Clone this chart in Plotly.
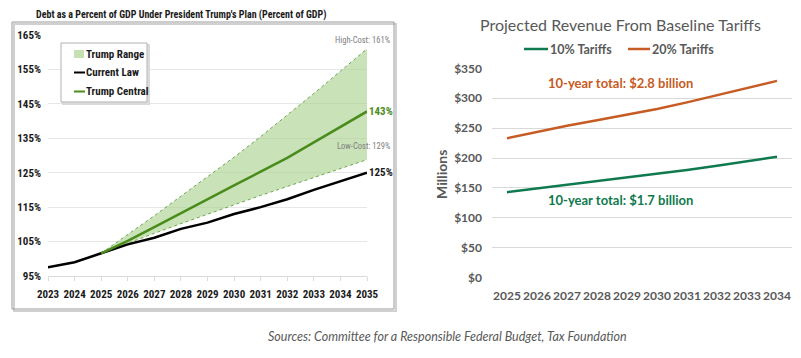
import plotly.graph_objects as go

# ---------------- Data ----------------
debt_years = [2023, 2024, 2025, 2026, 2027, 2028, 2029, 2030, 2031, 2032, 2033, 2034, 2035]
current_law = [97.5, 99.0, 101.6, 104.2, 106.1, 108.7, 110.5, 113.0, 115.0, 117.3, 120.0, 122.5, 125.0]
range_years = [2025, 2026, 2027, 2028, 2029, 2030, 2031, 2032, 2033, 2034, 2035]
trump_central = [101.6, 105.2, 109.2, 113.3, 117.2, 121.3, 125.3, 129.3, 133.8, 138.3, 142.8]
high_cost = [101.6, 107.0, 112.5, 118.2, 123.8, 129.5, 135.5, 141.7, 148.0, 154.5, 161.0]
low_cost = [101.6, 104.6, 107.4, 110.2, 113.0, 115.8, 118.4, 121.0, 123.6, 126.2, 128.8]
debt_yticks = [95, 105, 115, 125, 135, 145, 155, 165]

tariff_years = ["2025", "2026", "2027", "2028", "2029", "2030", "2031", "2032", "2033", "2034"]
tariff_10 = [143, 149, 156, 161, 168, 174, 180, 187, 195, 202]
tariff_20 = [233, 244, 254, 263, 272, 282, 293, 305, 317, 329]
tariff_yticks = [0, 50, 100, 150, 200, 250, 300, 350]

# ---------------- Styling ----------------
W, H = 801, 358
OFF = 8  # the page body adds an 8px margin; compensate so picture pixels line up


def px(x):
    return (x - OFF) / W


def py(y):
    return 1 - (y - OFF) / H


NARROW = "Roboto Condensed, Liberation Sans Narrow, sans-serif"
SANS = "Lato, Open Sans, sans-serif"
GREEN = "#4a8c1c"
FILL = "rgba(174,211,146,0.65)"
EDGE = "#6aa84f"
T_GREEN = "#0f7a4d"
T_ORANGE = "#c75b24"
GRAY = "#595959"
INK = "#1a1a1a"

fig = go.Figure()

# Left chart: range band
fig.add_trace(go.Scatter(x=range_years, y=low_cost, mode="lines",
                         line=dict(color=EDGE, width=1, dash="dot"),
                         xaxis="x", yaxis="y", showlegend=False, hoverinfo="skip"))
fig.add_trace(go.Scatter(x=range_years, y=high_cost, mode="lines", fill="tonexty",
                         fillcolor=FILL, line=dict(color=EDGE, width=1, dash="dot"),
                         xaxis="x", yaxis="y", showlegend=False, name="Trump Range"))
fig.add_trace(go.Scatter(x=debt_years, y=current_law, mode="lines",
                         line=dict(color="#000000", width=2.5),
                         xaxis="x", yaxis="y", showlegend=False, name="Current Law"))
fig.add_trace(go.Scatter(x=range_years, y=trump_central, mode="lines",
                         line=dict(color=GREEN, width=2.5),
                         xaxis="x", yaxis="y", showlegend=False, name="Trump Central"))

# Right chart
fig.add_trace(go.Scatter(x=tariff_years, y=tariff_10, mode="lines",
                         line=dict(color=T_GREEN, width=2.5),
                         xaxis="x2", yaxis="y2", showlegend=False, name="10% Tariffs"))
fig.add_trace(go.Scatter(x=tariff_years, y=tariff_20, mode="lines",
                         line=dict(color=T_ORANGE, width=2.5),
                         xaxis="x2", yaxis="y2", showlegend=False, name="20% Tariffs"))

shapes = []
annotations = []

# Left chart frame with shadow
shapes.append(dict(type="rect", xref="paper", yref="paper", x0=px(14), x1=px(396), y0=py(311), y1=py(24),
                   line=dict(color="#d0d0d0", width=2), fillcolor="rgba(0,0,0,0)", layer="below"))
shapes.append(dict(type="rect", xref="paper", yref="paper", x0=px(12), x1=px(394), y0=py(309), y1=py(22),
                   line=dict(color="#9a9a9a", width=1), fillcolor="rgba(0,0,0,0)", layer="below"))

# Left legend box
shapes.append(dict(type="rect", xref="paper", yref="paper", x0=px(63), x1=px(149), y0=py(104), y1=py(45),
                   line=dict(color="#dadada", width=2), fillcolor="#e6e6e6", layer="above"))
shapes.append(dict(type="rect", xref="paper", yref="paper", x0=px(61), x1=px(147), y0=py(102), y1=py(43),
                   line=dict(color="#b0b0b0", width=1), fillcolor="#ffffff", layer="above"))
leg_items = [("Trump Range", 54, "fill", FILL), ("Current Law", 72.5, "line", "#000000"),
             ("Trump Central", 91.5, "line", GREEN)]
for name, yy, kind, col in leg_items:
    if kind == "fill":
        shapes.append(dict(type="rect", xref="paper", yref="paper", x0=px(74), x1=px(84), y0=py(yy + 4), y1=py(yy - 4),
                           line=dict(width=0), fillcolor="#c6e0b4", layer="above"))
    else:
        shapes.append(dict(type="line", xref="paper", yref="paper", x0=px(74), x1=px(85), y0=py(yy), y1=py(yy),
                           line=dict(color=col, width=2), layer="above"))
    annotations.append(dict(text="<b>%s</b>" % name, xref="paper", yref="paper", x=px(84), y=py(yy),
                            xanchor="left", yanchor="middle", showarrow=False,
                            font=dict(family=NARROW, size=11, color=INK)))

# Left title
annotations.append(dict(text="<b>Debt as a Percent of GDP Under President Trump's Plan (Percent of GDP)</b>",
                        xref="paper", yref="paper", x=px(181), y=py(15), xanchor="center", yanchor="middle",
                        showarrow=False, font=dict(family=NARROW, size=10, color=INK)))

# Left end labels
annotations.append(dict(text="<b>143%</b>", xref="x", yref="y", x=debt_years[-1], y=trump_central[-1],
                        xanchor="left", yanchor="middle", xshift=0, showarrow=False,
                        font=dict(family=NARROW, size=11, color=GREEN)))
annotations.append(dict(text="<b>125%</b>", xref="x", yref="y", x=debt_years[-1], y=current_law[-1],
                        xanchor="left", yanchor="middle", xshift=0, showarrow=False,
                        font=dict(family=NARROW, size=11, color=INK)))
annotations.append(dict(text="High-Cost: 161%", xref="paper", yref="paper", x=px(392), y=py(40),
                        xanchor="right", yanchor="middle", showarrow=False,
                        font=dict(family=NARROW, size=8.5, color="#808080")))
annotations.append(dict(text="Low-Cost: 129%", xref="paper", yref="paper", x=px(392), y=py(146),
                        xanchor="right", yanchor="middle", showarrow=False,
                        font=dict(family=NARROW, size=8.5, color="#808080")))

# Right title
annotations.append(dict(text="Projected Revenue From Baseline Tariffs", xref="paper", yref="paper",
                        x=px(620), y=py(25), xanchor="center", yanchor="middle", showarrow=False,
                        font=dict(family=SANS, size=16, color=GRAY)))
# Right legend
r_leg = [("10% Tariffs", 524, 548, T_GREEN), ("20% Tariffs", 628, 650, T_ORANGE)]
for name, x0, x1, col in r_leg:
    shapes.append(dict(type="line", xref="paper", yref="paper", x0=px(x0), x1=px(x1), y0=py(49), y1=py(49),
                       line=dict(color=col, width=2.5)))
    annotations.append(dict(text="<b>%s</b>" % name, xref="paper", yref="paper", x=px(x1), y=py(49),
                            xanchor="left", yanchor="middle", showarrow=False,
                            font=dict(family=SANS, size=12.5, color=GRAY)))
# Right total labels
annotations.append(dict(text="<b>10-year total: $2.8 billion</b>", xref="paper", yref="paper",
                        x=px(620), y=py(83), xanchor="center", yanchor="middle", showarrow=False,
                        font=dict(family=SANS, size=13, color=T_ORANGE)))
annotations.append(dict(text="<b>10-year total: $1.7 billion</b>", xref="paper", yref="paper",
                        x=px(620), y=py(200), xanchor="center", yanchor="middle", showarrow=False,
                        font=dict(family=SANS, size=13, color=T_GREEN)))
# Millions axis title
annotations.append(dict(text="<b>Millions</b>", xref="paper", yref="paper", x=px(442), y=py(175),
                        xanchor="center", yanchor="middle", textangle=-90, showarrow=False,
                        font=dict(family=SANS, size=14, color=GRAY)))
# Source
annotations.append(dict(text="<i>Sources: Committee for a Responsible Federal Budget, Tax Foundation</i>",
                        xref="paper", yref="paper", x=px(447), y=py(336), xanchor="center", yanchor="middle",
                        showarrow=False, font=dict(family=SANS, size=12.5, color=GRAY)))

fig.update_layout(
    width=W, height=H,
    margin=dict(l=0, r=0, t=0, b=0, autoexpand=False),
    paper_bgcolor="white", plot_bgcolor="white",
    showlegend=False,
    shapes=shapes, annotations=annotations,
    xaxis=dict(domain=[px(48), px(367)], range=[2023, 2035], tickmode="array", tickvals=debt_years,
               ticktext=["<b>%d</b>" % y for y in debt_years], showgrid=False, zeroline=False,
               showline=True, linecolor="#d9d9d9", linewidth=1, ticks="outside", ticklen=4,
               tickcolor="#d9d9d9", tickangle=0, automargin=False, ticklabelstandoff=4,
               tickfont=dict(family=NARROW, size=11, color=INK), fixedrange=True),
    yaxis=dict(domain=[py(276), py(35)], range=[95, 165], tickmode="array", tickvals=debt_yticks,
               ticktext=["<b>%d%%</b>" % v for v in debt_yticks], showgrid=True, gridcolor="#e6e6e6",
               gridwidth=1, zeroline=False, showline=False, ticklabelstandoff=6, automargin=False,
               tickfont=dict(family=NARROW, size=11, color=INK), fixedrange=True),
    xaxis2=dict(domain=[px(492), px(792)], type="category", range=[-0.5, 9.5], showgrid=False,
                zeroline=False, showline=False, tickfont=dict(family=SANS, size=12, color=GRAY), tickangle=0,
                ticktext=["<b>%s</b>" % y for y in tariff_years], tickvals=tariff_years, tickmode="array",
                anchor="y2", ticklabelstandoff=9, automargin=False, fixedrange=True),
    yaxis2=dict(domain=[py(277.7), py(68.3)], range=[0, 350], tickmode="array", tickvals=tariff_yticks,
                ticktext=["<b>$%d</b>" % v for v in tariff_yticks], showgrid=True, gridcolor="#d9d9d9",
                gridwidth=1, zeroline=False, showline=False, anchor="x2", ticklabelstandoff=9,
                automargin=False, tickfont=dict(family=SANS, size=12, color=GRAY), fixedrange=True),
)

fig.write_html("out.html")
